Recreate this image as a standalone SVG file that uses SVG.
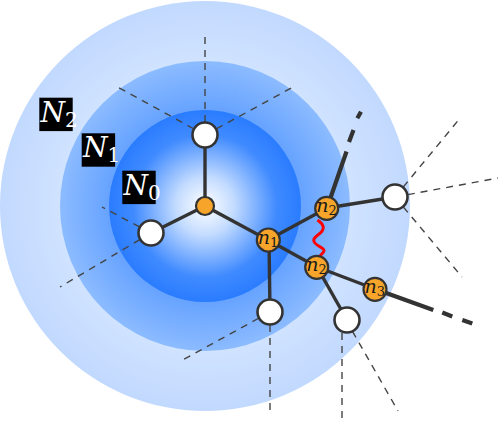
<svg xmlns="http://www.w3.org/2000/svg" width="498" height="422" viewBox="0 0 498 422">
<defs>
<radialGradient id="gOuter" gradientUnits="userSpaceOnUse" cx="205" cy="206" r="205">
<stop offset="0.7" stop-color="#d0e3ff"/>
<stop offset="1" stop-color="#c2d9ff"/>
</radialGradient>
<radialGradient id="gMid" gradientUnits="userSpaceOnUse" cx="205" cy="206" r="145">
<stop offset="0.66" stop-color="#66a3ff"/>
<stop offset="1" stop-color="#8cbbff"/>
</radialGradient>
<radialGradient id="gIn" gradientUnits="userSpaceOnUse" cx="205" cy="206" r="96">
<stop offset="0" stop-color="#ffffff"/>
<stop offset="0.3" stop-color="#c4dcff"/>
<stop offset="0.75" stop-color="#3f8aff"/>
<stop offset="1" stop-color="#2a7cff"/>
</radialGradient>
<style>
.dash{stroke:#444;stroke-width:1.4;stroke-dasharray:7 6;fill:none}
.edge{stroke:#333;stroke-width:3.4;fill:none}
.tail{stroke:#333;stroke-width:4.2;fill:none}
.wn{fill:#fff;stroke:#333;stroke-width:2.6}
.on{fill:#f7a52a;stroke:#333;stroke-width:2.2}
.lab{font-family:"DejaVu Serif",serif;fill:#1a1a1a}
.box{fill:#000}
.big{font-family:"DejaVu Serif",serif;fill:#fff}
</style>
</defs>
<g id="background">
<circle cx="205" cy="206" r="205" fill="url(#gOuter)"/>
<circle cx="205" cy="206" r="145" fill="url(#gMid)"/>
<circle cx="205" cy="206" r="96" fill="url(#gIn)"/>
</g>
<g id="connectors">
<line class="dash" x1="205" y1="135" x2="205" y2="32"/>
<line class="dash" x1="205" y1="135" x2="114" y2="85"/>
<line class="dash" x1="205" y1="135" x2="295" y2="86"/>
<line class="dash" x1="151" y1="233" x2="102" y2="207"/>
<line class="dash" x1="151" y1="233" x2="60" y2="287"/>
<line class="dash" x1="270" y1="312" x2="179" y2="362"/>
<line class="dash" x1="270" y1="312" x2="270" y2="414"/>
<line class="dash" x1="342" y1="320" x2="342" y2="422"/>
<line class="dash" x1="346" y1="320" x2="398" y2="411"/>
<line class="dash" x1="395" y1="197" x2="461" y2="117"/>
<line class="dash" x1="395" y1="197" x2="498" y2="178"/>
<line class="dash" x1="395" y1="197" x2="462" y2="277"/>
<line class="edge" x1="205" y1="206" x2="205" y2="135"/>
<line class="edge" x1="205" y1="206" x2="151" y2="233"/>
<line class="edge" x1="205" y1="206" x2="268" y2="240"/>
<line class="edge" x1="268" y1="240" x2="327" y2="208"/>
<line class="edge" x1="268" y1="240" x2="317" y2="267"/>
<line class="edge" x1="269" y1="240" x2="270" y2="312"/>
<line class="edge" x1="327" y1="208" x2="395" y2="197"/>
<line class="edge" x1="317" y1="267" x2="375" y2="289"/>
<line class="edge" x1="317" y1="267" x2="347" y2="320"/>
<line class="tail" x1="327" y1="208" x2="346.5" y2="151.5"/>
<line class="tail" x1="349" y1="142" x2="353.5" y2="130"/>
<line class="tail" x1="357.3" y1="118.3" x2="361" y2="111.7"/>
<line class="tail" x1="375" y1="289" x2="433.3" y2="310"/>
<line class="tail" x1="442.3" y1="312.5" x2="452.3" y2="316.5"/>
<line class="tail" x1="462.3" y1="320" x2="472.3" y2="323.5"/>
<path d="M317.5 220 C325 225 325 230 318.5 234.5 S312 242 319.5 246.5 S324 251 320 256" fill="none" stroke="#ff0000" stroke-width="3"/>
</g>
<g id="node-c"><circle class="on" cx="205" cy="206" r="9"/></g>
<g id="node-w1"><circle class="wn" cx="205" cy="135" r="12.5"/></g>
<g id="node-w2"><circle class="wn" cx="151" cy="233" r="12.5"/></g>
<g id="node-w3"><circle class="wn" cx="270" cy="312" r="12.5"/></g>
<g id="node-w4"><circle class="wn" cx="347" cy="320" r="12.5"/></g>
<g id="node-w5"><circle class="wn" cx="395" cy="197" r="12.5"/></g>
<g id="node-n1"><circle class="on" cx="268.3" cy="240" r="11.5"/>
<text class="lab" x="268" y="243.6" text-anchor="middle" font-size="19"><tspan font-style="italic">n</tspan><tspan font-size="13" dy="3.3">1</tspan></text></g>
<g id="node-n2a"><circle class="on" cx="326.7" cy="208.3" r="11.5"/>
<text class="lab" x="326.4" y="211.9" text-anchor="middle" font-size="19"><tspan font-style="italic">n</tspan><tspan font-size="13" dy="3.3">2</tspan></text></g>
<g id="node-n2b"><circle class="on" cx="316.7" cy="267.3" r="11.5"/>
<text class="lab" x="316.4" y="270.9" text-anchor="middle" font-size="19"><tspan font-style="italic">n</tspan><tspan font-size="13" dy="3.3">2</tspan></text></g>
<g id="node-n3"><circle class="on" cx="375" cy="289.3" r="11.5"/>
<text class="lab" x="374.7" y="292.9" text-anchor="middle" font-size="19"><tspan font-style="italic">n</tspan><tspan font-size="13" dy="3.3">3</tspan></text></g>
<g id="label-N2"><rect class="box" x="39.3" y="97.7" width="33.4" height="33.4"/>
<text class="big" x="40.5" y="121.8" font-size="28"><tspan font-style="italic">N</tspan><tspan font-size="20" dy="5">2</tspan></text></g>
<g id="label-N1"><rect class="box" x="81.7" y="133.3" width="33.4" height="33.4"/>
<text class="big" x="82.9" y="157.4" font-size="28"><tspan font-style="italic">N</tspan><tspan font-size="20" dy="5">1</tspan></text></g>
<g id="label-N0"><rect class="box" x="122.3" y="170.7" width="33.4" height="33.4"/>
<text class="big" x="123.5" y="194.8" font-size="28"><tspan font-style="italic">N</tspan><tspan font-size="20" dy="5">0</tspan></text></g>
</svg>
